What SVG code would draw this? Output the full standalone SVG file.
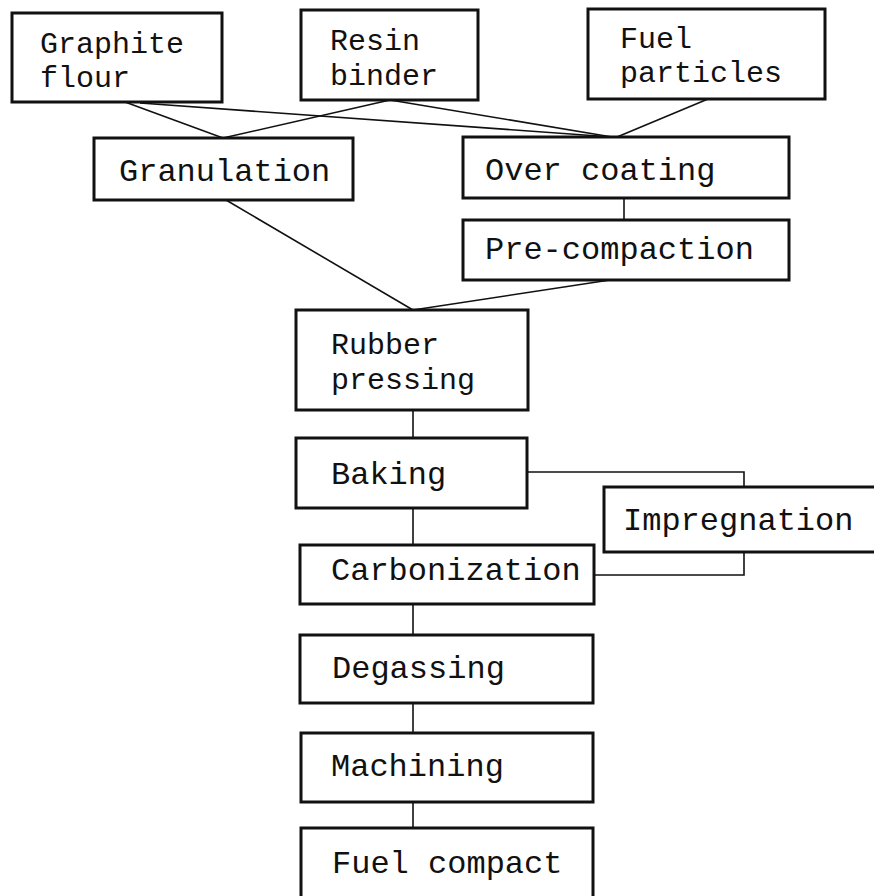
<svg xmlns="http://www.w3.org/2000/svg" width="874" height="896" viewBox="0 0 874 896">
<style>
.box{fill:#fff;stroke:#111;stroke-width:3}
.t{font-family:"Liberation Mono","DejaVu Sans Mono",monospace;font-size:32px;fill:#111}
.t2{font-family:"Liberation Mono","DejaVu Sans Mono",monospace;font-size:30px;fill:#111}
.c{fill:none;stroke:#111;stroke-width:1.6}
</style>
<rect width="874" height="896" fill="#fff"/>
<g id="connectors">
<line class="c" x1="125" y1="102" x2="223" y2="138"/>
<line class="c" x1="140" y1="103" x2="612" y2="137"/>
<line class="c" x1="390" y1="100" x2="223" y2="138"/>
<line class="c" x1="390" y1="100" x2="612" y2="137"/>
<line class="c" x1="708" y1="99" x2="617" y2="137"/>
<line class="c" x1="624" y1="198" x2="624" y2="220"/>
<line class="c" x1="226" y1="200" x2="413" y2="310"/>
<line class="c" x1="610" y1="280" x2="413" y2="310"/>
<line class="c" x1="413" y1="410" x2="413" y2="438"/>
<line class="c" x1="413" y1="508" x2="413" y2="545"/>
<polyline class="c" points="527,472 744,472 744,487"/>
<polyline class="c" points="594,575 744,575 744,552"/>
<line class="c" x1="413" y1="604" x2="413" y2="635"/>
<line class="c" x1="413" y1="703" x2="413" y2="733"/>
<line class="c" x1="413" y1="802" x2="413" y2="828"/>
</g>
<g id="graphite-flour"><rect class="box" x="12" y="13" width="210" height="89"/><text class="t2" x="40" y="53">Graphite</text><text class="t2" x="40" y="87">flour</text></g>
<g id="resin-binder"><rect class="box" x="301" y="10" width="177" height="90"/><text class="t2" x="330" y="50">Resin</text><text class="t2" x="330" y="85">binder</text></g>
<g id="fuel-particles"><rect class="box" x="588" y="9" width="237" height="90"/><text class="t2" x="620" y="48">Fuel</text><text class="t2" x="620" y="82">particles</text></g>
<g id="granulation"><rect class="box" x="94" y="138" width="259" height="62"/><text class="t" x="119" y="181">Granulation</text></g>
<g id="over-coating"><rect class="box" x="463" y="137" width="326" height="61"/><text class="t" x="485" y="180">Over coating</text></g>
<g id="pre-compaction"><rect class="box" x="463" y="220" width="326" height="60"/><text class="t" x="485" y="259">Pre-compaction</text></g>
<g id="rubber-pressing"><rect class="box" x="296" y="310" width="232" height="100"/><text class="t2" x="331" y="354">Rubber</text><text class="t2" x="331" y="389">pressing</text></g>
<g id="baking"><rect class="box" x="296" y="438" width="231" height="70"/><text class="t" x="331" y="484">Baking</text></g>
<g id="impregnation"><rect class="box" x="604" y="487" width="272" height="65"/><text class="t" x="623" y="530">Impregnation</text></g>
<g id="carbonization"><rect class="box" x="300" y="545" width="294" height="59"/><text class="t" x="331" y="580">Carbonization</text></g>
<g id="degassing"><rect class="box" x="300" y="635" width="293" height="68"/><text class="t" x="332" y="678">Degassing</text></g>
<g id="machining"><rect class="box" x="301" y="733" width="292" height="69"/><text class="t" x="331" y="776">Machining</text></g>
<g id="fuel-compact"><rect class="box" x="301" y="828" width="292" height="72"/><text class="t" x="332" y="873">Fuel compact</text></g>
</svg>
